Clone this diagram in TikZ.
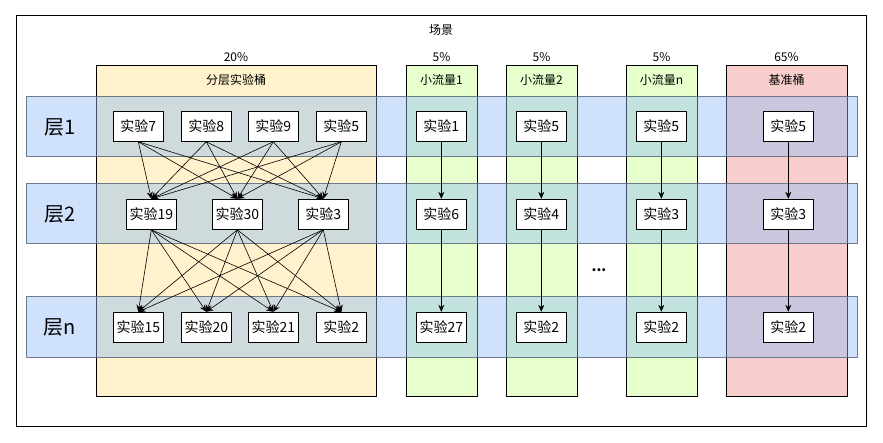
\documentclass[tikz,border=0pt]{standalone}
\usepackage{fontspec}
\setmainfont{Noto Sans CJK SC}
\usetikzlibrary{arrows.meta}
\definecolor{bandblue}{RGB}{145,188,245}
\definecolor{bandline}{RGB}{95,110,130}
\definecolor{bucketyellow}{RGB}{255,242,204}
\definecolor{bucketgreen}{RGB}{230,255,204}
\definecolor{bucketred}{RGB}{248,206,204}

\begin{document}
\begin{tikzpicture}[x=1pt,y=-1pt,
    bucket/.style={draw=black,line width=1pt},
    band/.style={draw=bandline,fill=bandblue,fill opacity=0.43,draw opacity=0.9,line width=1pt},
    exp/.style={draw=black,fill=white,line width=1pt,minimum width=50pt,minimum height=30pt,inner sep=0pt,font=\fontsize{14}{16}\selectfont},
    small/.style={font=\fontsize{12}{14}\selectfont},
    layer/.style={font=\fontsize{20}{24}\selectfont},
    link/.style={-{Stealth[length=7pt,width=6pt]},line width=0.6pt}]
    \useasboundingbox (0,0) rectangle (883,443);
    \draw[line width=1pt] (16,16) rectangle (866,426);
    \node[small] (scene) at (441,30) {场景};

    % buckets
    \draw[bucket,fill=bucketyellow] (96,66) rectangle (376,396);
    \draw[bucket,fill=bucketgreen] (406,66) rectangle (477,396);
    \draw[bucket,fill=bucketgreen] (506,66) rectangle (577,396);
    \draw[bucket,fill=bucketgreen] (626,66) rectangle (697,396);
    \draw[bucket,fill=bucketred] (726,66) rectangle (847,396);
    \node[small] (pct1) at (236,57) {20\%};
    \node[small] (pct2) at (441.5,57) {5\%};
    \node[small] (pct3) at (541.5,57) {5\%};
    \node[small] (pct4) at (661.5,57) {5\%};
    \node[small] (pct5) at (786.5,57) {65\%};
    \node[small] (name1) at (236,80) {分层实验桶};
    \node[small] (name2) at (441.5,80) {小流量1};
    \node[small] (name3) at (541.5,80) {小流量2};
    \node[small] (name4) at (661.5,80) {小流量n};
    \node[small] (name5) at (786.5,80) {基准桶};

    % layers
    \foreach \y in {97,184,297}
        \draw[band] (26,\y) rectangle (857,\y+60);
    \node[layer] (lay1) at (60,127) {层1};
    \node[layer] (lay2) at (60,214) {层2};
    \node[layer] (layn) at (60,327) {层n};

    % experiments
    \node[exp] (L1a) at (138.3,126.3) {实验7};
    \node[exp] (L1b) at (206.3,126.3) {实验8};
    \node[exp] (L1c) at (273.3,126.3) {实验9};
    \node[exp] (L1d) at (341.3,126.3) {实验5};
    \node[exp] (L2a) at (151.3,214.3) {实验19};
    \node[exp] (L2b) at (237.3,214.3) {实验30};
    \node[exp] (L2c) at (323.3,214.3) {实验3};
    \node[exp] (Lna) at (138.3,327.3) {实验15};
    \node[exp] (Lnb) at (206.3,327.3) {实验20};
    \node[exp] (Lnc) at (273.3,327.3) {实验21};
    \node[exp] (Lnd) at (341.3,327.3) {实验2};

    \node[exp] (A1) at (441.3,126.3) {实验1};
    \node[exp] (A2) at (441.3,214.3) {实验6};
    \node[exp] (An) at (441.3,327.3) {实验27};
    \node[exp] (B1) at (541.3,126.3) {实验5};
    \node[exp] (B2) at (541.3,214.3) {实验4};
    \node[exp] (Bn) at (541.3,327.3) {实验2};
    \node[exp] (C1) at (661.3,126.3) {实验5};
    \node[exp] (C2) at (661.3,214.3) {实验3};
    \node[exp] (Cn) at (661.3,327.3) {实验2};
    \node[exp] (D1) at (788.3,126.3) {实验5};
    \node[exp] (D2) at (788.3,214.3) {实验3};
    \node[exp] (Dn) at (788.3,327.3) {实验2};
    \node[font=\fontsize{14}{16}\selectfont\bfseries] (dots) at (599,270) {...};

    % links
    \foreach \s in {L1a,L1b,L1c,L1d}
        \foreach \t in {L2a,L2b,L2c}
            \draw[link] (\s.south) -- (\t.north);
    \foreach \s in {L2a,L2b,L2c}
        \foreach \t in {Lna,Lnb,Lnc,Lnd}
            \draw[link] (\s.south) -- (\t.north);
    \foreach \c in {A,B,C,D} {
        \draw[link] (\c1) -- (\c2);
        \draw[link] (\c2) -- (\c n);
    }
\end{tikzpicture}
\end{document}
